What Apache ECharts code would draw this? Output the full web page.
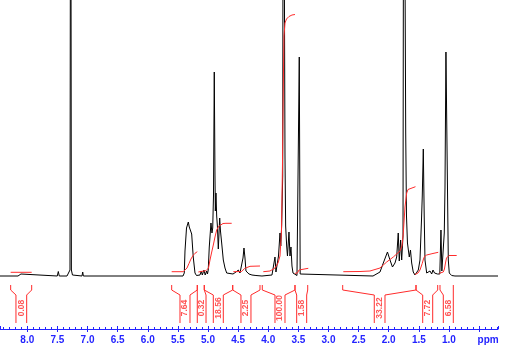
<!DOCTYPE html>
<html><head><meta charset="utf-8">
<script src="https://cdn.jsdelivr.net/npm/echarts/dist/echarts.min.js"></script>
<style>html,body{margin:0;padding:0;background:#fff}#c{width:517px;height:351px}</style>
</head><body><div id="c"></div>
<script>
// ppm axis range shown
const ppmRange = [0.186, 8.453];
// spectrum: [ppm, intensity]
const spectrum = [
[8.453,0],[8.154,0],[8.138,2],[8.121,0.5],[8.105,2],[8.088,0],
[7.502,0],[7.485,4.5],[7.469,0],
[7.341,0],[7.308,1],[7.291,6],[7.280,600],[7.268,6],[7.250,1],[7.225,0],
[7.092,0],[7.080,4],[7.069,0],
[5.415,0],[5.394,3],[5.382,25],[5.357,48],[5.327,54],[5.311,49],[5.291,47],[5.271,42],[5.245,19],[5.216,3],[5.191,0.5],
[5.166,0.5],[5.133,1],[5.112,5],[5.095,1],[5.067,6],[5.047,1],[5.022,5],[5.009,2],
[4.996,6],[4.979,29],[4.951,53],[4.934,43],[4.922,48],[4.909,80],[4.896,204],[4.884,100],[4.878,65],[4.868,83],[4.856,60],[4.844,50],[4.829,27],[4.806,58],[4.793,45],[4.773,33],[4.746,16],[4.718,8],[4.690,3],[4.668,1],
[4.585,2],[4.535,4],[4.497,6],[4.469,3],[4.436,5],[4.419,18],[4.403,28],[4.386,18],[4.370,5],[4.348,6],[4.320,2],[4.270,1],[4.204,0.5],[4.104,0],
[3.938,1],[3.905,3],[3.888,19],[3.872,4],[3.855,3],[3.830,20],[3.805,43],[3.792,30],[3.777,51],[3.760,100],[3.750,600],[3.734,600],[3.722,120],[3.711,50],[3.694,30],[3.681,20],[3.656,44],[3.639,20],[3.623,29],[3.606,10],[3.589,3],[3.556,1],
[3.523,0.5],[3.498,2],[3.485,219],[3.470,2],[3.448,0.5],
[2.261,0],[2.145,4],[2.090,13],[2.021,24],[1.979,16],[1.938,9],[1.896,13],[1.868,19],[1.842,43],[1.825,15],[1.802,36],[1.785,16],[1.763,40],[1.750,600],[1.733,600],[1.718,143],[1.705,60],[1.689,33],[1.659,19],[1.639,26],[1.619,13],[1.593,4],[1.564,1],
[1.509,6],[1.481,16],[1.456,56],[1.443,80],[1.426,127],[1.411,60],[1.398,16],[1.370,3],[1.348,1],
[1.315,5],[1.287,2],[1.265,6],[1.240,3],[1.216,5],[1.191,2],
[1.152,2],[1.133,46],[1.118,5],[1.094,5],[1.078,43],[1.066,88],[1.050,224],[1.033,133],[1.021,69],[1.011,16],[0.995,3],[0.955,0.5],[0.900,0],[0.186,0]
];
// integral labels
const integralValues = ['0.08','7.64','0.32','18.56','2.25','100.00','1.58','33.22','7.72','6.58'];
// integral curves: [ppm, height]
const int008 = [[8.276,3.7],[7.927,3.7]];
const int764 = [[5.603,4.3],[5.410,4.3],[5.382,5],[5.349,8],[5.316,12.5],[5.283,17],[5.249,20.5],[5.216,22.7],[5.178,24.3]];
const int032 = [[5.161,4],[5.117,4.5],[5.067,5],[5.030,5.3]];
const int1856 = [[5.025,5.7],[4.992,8],[4.967,16],[4.942,23],[4.912,31],[4.884,39],[4.856,46],[4.826,49.5],[4.801,51],[4.751,52.5],[4.702,52.7],[4.607,52.7]];
const int225 = [[4.580,4.3],[4.441,4.5],[4.419,5],[4.394,7.5],[4.361,9.3],[4.303,9.7],[4.137,10]];
const int100 = [[4.082,4.3],[3.971,5],[3.888,8],[3.838,13],[3.805,20],[3.780,45],[3.764,110],[3.750,190],[3.739,240],[3.722,253],[3.697,257],[3.656,259.5],[3.606,261],[3.556,261.5]];
const int158 = [[3.556,2.7],[3.515,3],[3.490,6],[3.465,7.5],[3.335,7.7]];
const int3322 = [[2.754,4.3],[2.477,4.5],[2.311,5],[2.145,8],[2.034,14],[1.924,19],[1.813,25],[1.780,30],[1.758,43],[1.742,58],[1.730,69],[1.702,83],[1.680,86.5],[1.647,88],[1.556,89.3]];
const int772 = [[1.564,1.5],[1.514,3],[1.481,6],[1.443,12.7],[1.423,17],[1.406,19.5],[1.370,21],[1.282,22.3],[1.178,23.7]];
const int658 = [[1.161,2.7],[1.094,4],[1.075,7],[1.058,13],[1.041,18],[1.025,20],[1.000,20.5],[0.872,20.5]];
const integralCurves = [int008,int764,int032,int1856,int225,int100,int158,int3322,int772,int658];
// bracket limits in ppm: [outerLeft, innerLeft, innerRight, outerRight, labelPos]
const bracketRegions = [
[8.276,8.188,8.010,7.927,8.100],
[5.603,5.465,5.299,5.178,5.382],
[5.178,5.178,5.033,5.062,5.103],
[5.062,4.912,4.746,4.590,4.826],
[4.590,4.453,4.287,4.137,4.370],
[4.099,3.888,3.722,3.556,3.805],
[3.556,3.528,3.362,3.345,3.445],
[2.764,2.240,2.062,1.547,2.150],
[1.547,1.436,1.270,1.187,1.353],
[1.149,1.094,0.928,0.928,1.011]
];

const RED = '#ff2b2b', BLUE = '#2424ff';
const BL = {top:-9, knee:-14, inner:-19, bottom:-47, text:-32};
const series = [];
series.push({type:'line', data:spectrum, showSymbol:false, symbol:'none', clip:true,
  lineStyle:{color:'#000', width:1}, z:3});
integralCurves.forEach(c => series.push({type:'line', data:c, symbol:'none', showSymbol:false,
  lineStyle:{color:RED, width:1}, z:4}));
bracketRegions.forEach(b => {
  series.push({type:'line', symbol:'none', lineStyle:{color:RED,width:1},
    data:[[b[0],BL.top],[b[0],BL.knee],[b[1],BL.inner],[b[1],BL.bottom]]});
  series.push({type:'line', symbol:'none', lineStyle:{color:RED,width:1},
    data:[[b[3],BL.top],[b[3],BL.knee],[b[2],BL.inner],[b[2],BL.bottom]]});
});
series.push({type:'scatter', symbolSize:1, itemStyle:{color:'rgba(0,0,0,0)'},
  data: integralValues.map((v,i)=>({value:[bracketRegions[i][4], BL.text], name:v})),
  label:{show:true, position:'inside', rotate:90, formatter:'{b}', color:RED,
    fontSize:8.5, fontWeight:'bold', fontFamily:'Liberation Sans, Arial'}});

const labelFmt = v => Math.abs(v-0.5)<1e-6 ? '{p|ppm}' : v.toFixed(1);
const axisCommon = {type:'value', min:ppmRange[0], max:ppmRange[1], inverse:true, position:'bottom',
  splitNumber:17, splitLine:{show:false}};
const chart = echarts.init(document.getElementById('c'), null, {renderer:'canvas'});
chart.setOption({
  animation:false,
  grid:{left:0, right:19, top:0, bottom:22, containLabel:false},
  xAxis:[
    Object.assign({}, axisCommon, {
      axisLine:{onZero:false, lineStyle:{color:BLUE, width:1}},
      axisTick:{show:true, inside:false, length:3, lineStyle:{color:BLUE}},
      minorTick:{show:false},
      axisLabel:{showMinLabel:false, showMaxLabel:false, formatter:labelFmt, color:BLUE,
        fontSize:10, fontWeight:'bold', fontFamily:'Liberation Sans, Arial', margin:6,
        rich:{p:{padding:[0,0,0,18], color:BLUE, fontSize:10, fontWeight:'bold', fontFamily:'Liberation Sans, Arial'}}}
    }),
    Object.assign({}, axisCommon, {
      axisLine:{show:false, onZero:false},
      axisTick:{show:true, inside:true, length:3, lineStyle:{color:BLUE}},
      minorTick:{show:true, splitNumber:5, length:2, lineStyle:{color:BLUE}},
      axisLabel:{show:false}
    })
  ],
  yAxis:{type:'value', min:-53, max:276, show:false},
  series: series
});
</script></body></html>
